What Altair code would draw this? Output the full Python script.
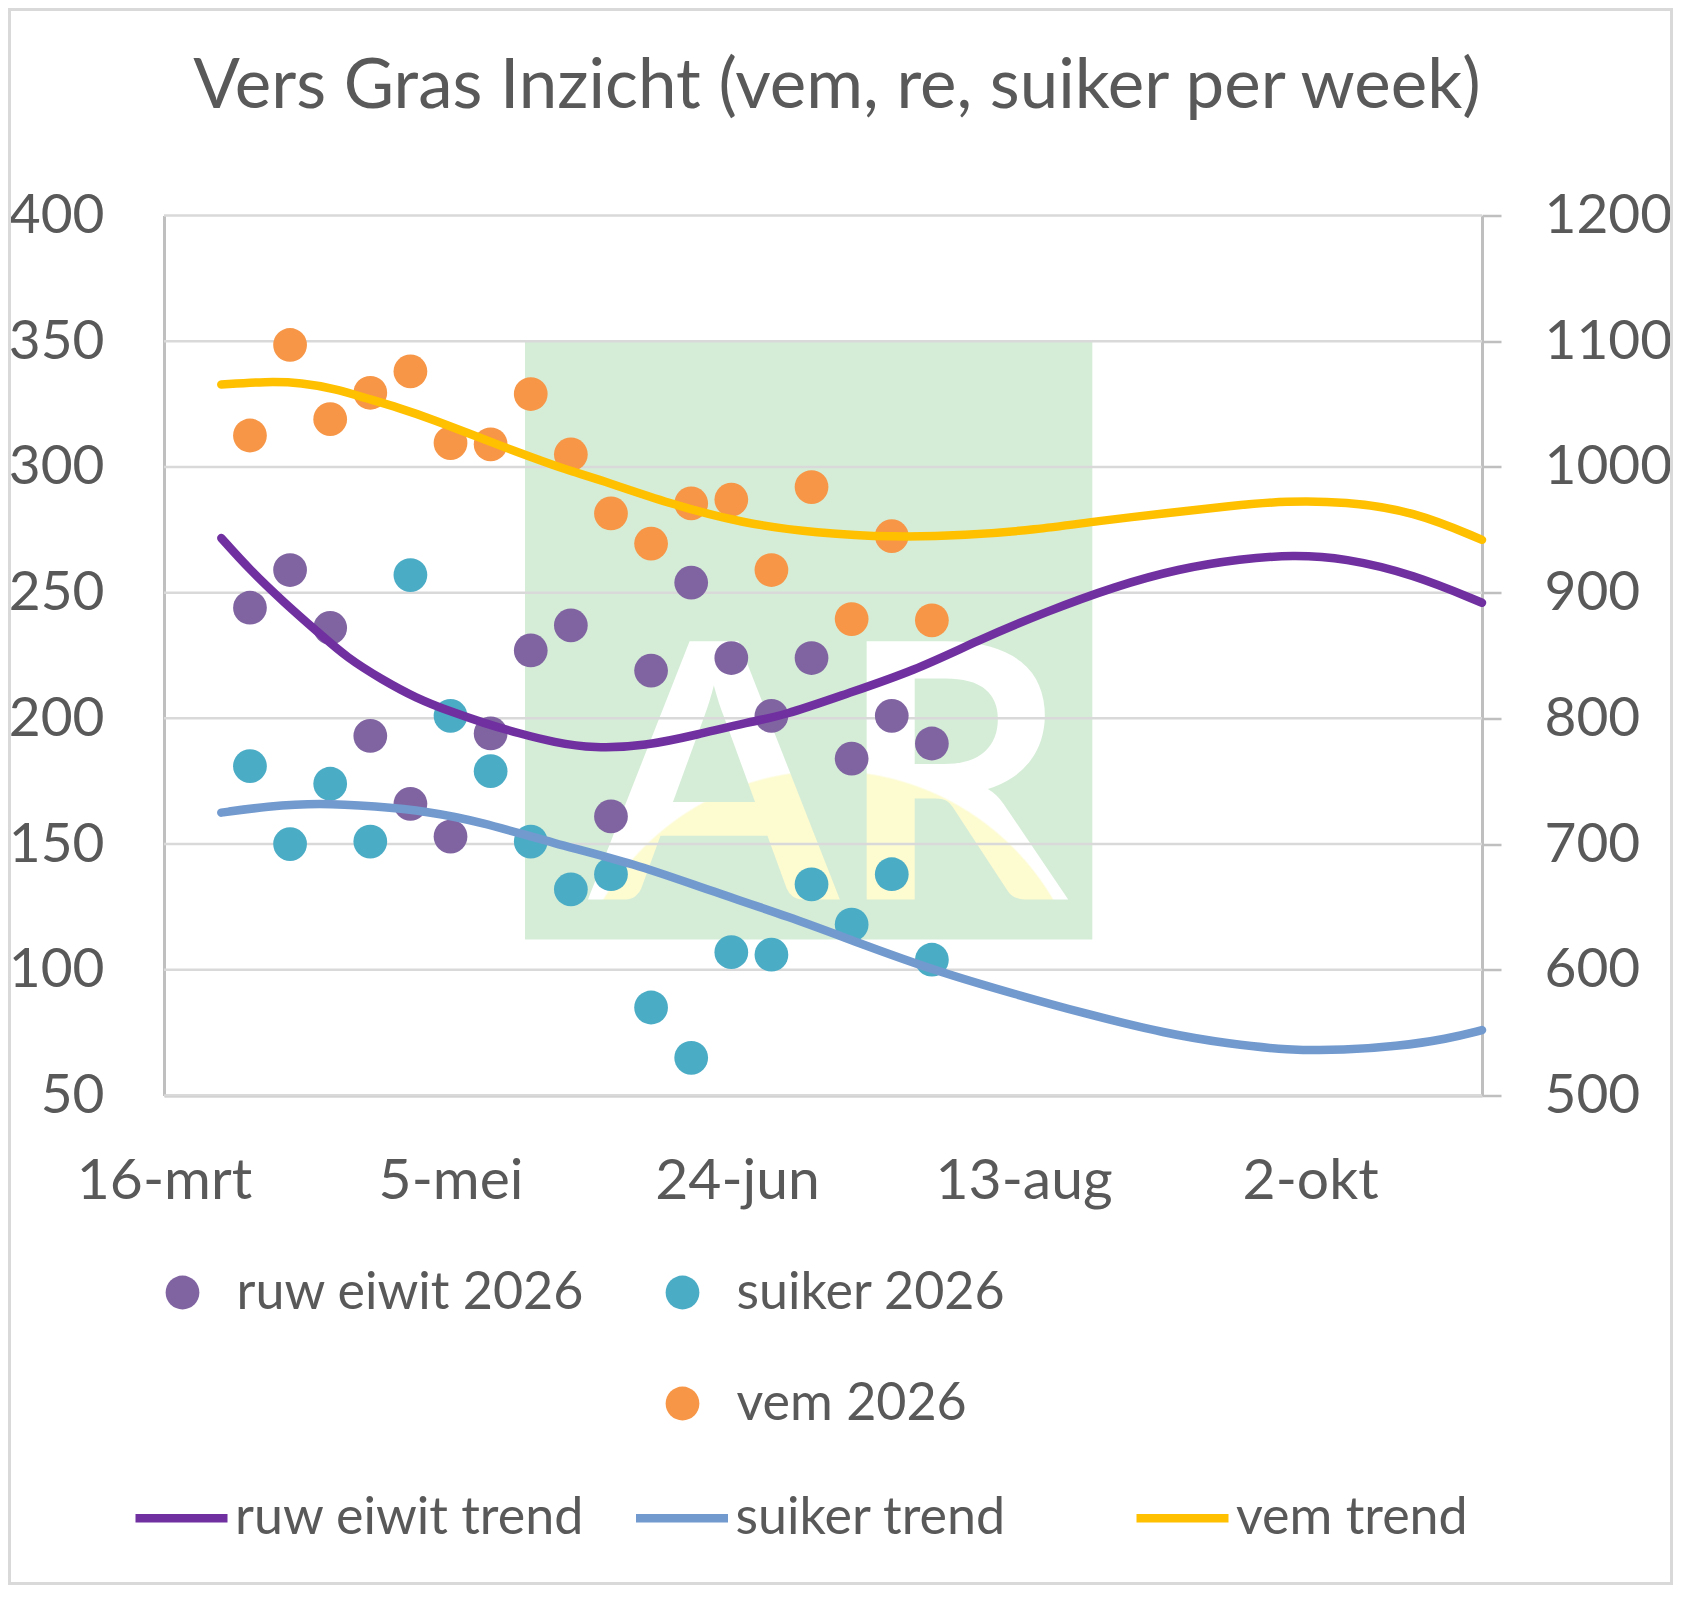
import pandas as pd
import altair as alt

# weekly samples 2026 (left axis: ruw eiwit, suiker; right axis: vem)
dates = ["2026-03-31", "2026-04-07", "2026-04-14", "2026-04-21", "2026-04-28",
         "2026-05-05", "2026-05-12", "2026-05-19", "2026-05-26", "2026-06-02",
         "2026-06-09", "2026-06-16", "2026-06-23", "2026-06-30", "2026-07-07",
         "2026-07-14", "2026-07-21", "2026-07-28"]
ruw_eiwit = [244, 259, 236, 193, 166, 153, 194, 227, 237, 161,
             219, 254, 224, 201, 224, 184, 201, 190]
suiker = [181, 150, 174, 151, 257, 201, 179, 151, 132, 138,
          85, 65, 107, 106, 134, 118, 138, 104]
vem = [1025, 1097, 1038, 1059, 1076, 1019, 1018, 1058, 1010, 963,
       939, 971, 974, 918, 984, 879, 945, 878]

# trend lines, x in days after 16-mrt
eiwit_trend_days = [10, 15, 21, 27, 32, 38, 44, 50, 56, 62, 68, 75, 84, 93, 102, 108,
                    119, 131, 142, 154, 166, 177, 188, 197, 206, 218, 230]
eiwit_trend = [271.7, 259, 246, 234, 224, 215.5, 208, 202.7, 198, 194, 190.5, 188, 189,
               193.5, 198.5, 201, 209.7, 219, 231, 242.5, 252.5, 259.5, 263.5, 265,
               263.8, 257.3, 246]
suiker_trend_days = [10, 18, 27, 37, 46, 55, 68, 82, 95, 109, 122, 135, 149, 160,
                     175, 186, 196, 206, 215, 224, 230]
suiker_trend = [162.5, 165, 166.4, 165, 163, 159, 150.3, 142.3, 131.7, 121.2, 110,
                99.3, 90, 83, 74.5, 70.5, 68, 68, 69.5, 72.5, 76]
vem_trend_days = [10, 18, 24, 30, 35, 41, 47, 53, 59, 64, 70, 76, 88, 101, 114, 127,
                  140, 152, 163, 175, 186, 196, 206, 218, 230]
vem_trend = [1065.5, 1068, 1067, 1062, 1055, 1047, 1037.6, 1027, 1016.4, 1008, 998,
             990, 971, 955, 947.4, 944, 945.5, 950, 957, 963.3, 969, 973, 972.4, 965, 942]

left_ticks = [50, 100, 150, 200, 250, 300, 350, 400]
right_ticks = [500, 600, 700, 800, 900, 1000, 1100, 1200]

# watermark box behind the data
wm_start, wm_end = "2026-05-18", "2026-08-25"
wm_low, wm_high = 112, 350
logo_date, logo_base = "2026-07-10", 128

GREY_TEXT = "#595959"
FONT = "Lato"

start = pd.Timestamp("2026-03-16")


def day_to_str(d):
    return (start + pd.Timedelta(days=d)).strftime("%Y-%m-%d")


pts_left = pd.concat([
    pd.DataFrame({"date": dates, "value": ruw_eiwit, "series": "ruw eiwit 2026"}),
    pd.DataFrame({"date": dates, "value": suiker, "series": "suiker 2026"}),
])
pts_right = pd.DataFrame({"date": dates, "value": vem, "series": "vem 2026"})

trend_left = pd.concat([
    pd.DataFrame({"date": [day_to_str(d) for d in eiwit_trend_days],
                  "value": eiwit_trend, "series": "ruw eiwit trend"}),
    pd.DataFrame({"date": [day_to_str(d) for d in suiker_trend_days],
                  "value": suiker_trend, "series": "suiker trend"}),
])
trend_right = pd.DataFrame({"date": [day_to_str(d) for d in vem_trend_days],
                            "value": vem_trend, "series": "vem trend"})

wm_df = pd.DataFrame({"start": [wm_start], "end": [wm_end], "low": [wm_low], "high": [wm_high]})
logo_df = pd.DataFrame({"date": [logo_date], "value": [logo_base]})
grid_df = pd.DataFrame({"value": left_ticks})

# scales and axes
x_scale = alt.Scale(type="utc", domain=[alt.DateTime(year=2026, month=3, date=16, utc=True),
                                        alt.DateTime(year=2026, month=11, date=1, utc=True)])
x_axis = alt.Axis(
    values=[alt.DateTime(year=2026, month=3, date=16, utc=True),
            alt.DateTime(year=2026, month=5, date=5, utc=True),
            alt.DateTime(year=2026, month=6, date=24, utc=True),
            alt.DateTime(year=2026, month=8, date=13, utc=True),
            alt.DateTime(year=2026, month=10, date=2, utc=True)],
    labelExpr="utcdate(datum.value) + '-' + ['jan','feb','mrt','apr','mei','jun','jul','aug','sep','okt','nov','dec'][utcmonth(datum.value)]",
    grid=False, ticks=False, labelPadding=58, labelFont=FONT, labelFontSize=57,
    labelColor=GREY_TEXT, labelFlush=False, labelOverlap=False,
    domainColor="#bfbfbf", domainWidth=3, title=None)

left_scale = alt.Scale(domain=[50, 400], nice=False, zero=False)
left_axis = alt.Axis(orient="left", values=left_ticks, grid=False, ticks=False, tickSize=0,
                     labelPadding=60, labelFont=FONT, labelFontSize=55, labelColor=GREY_TEXT,
                     domainColor="#bfbfbf", domainWidth=3, title=None)
right_scale = alt.Scale(domain=[500, 1200], nice=False, zero=False)
right_axis = alt.Axis(orient="right", values=right_ticks, format="d", grid=False, ticks=True,
                      tickSize=19, tickColor="#bfbfbf", tickWidth=2.5, labelPadding=43,
                      labelAlign="left", labelFont=FONT, labelFontSize=55, labelColor=GREY_TEXT,
                      domainColor="#bfbfbf", domainWidth=3, title=None)


def X(field):
    return alt.X(field, scale=x_scale, axis=x_axis, title=None)


def YL(field):
    return alt.Y(field, scale=left_scale, axis=left_axis, title=None)


def YR(field):
    return alt.Y(field, scale=right_scale, axis=right_axis, title=None)


# legends: one for the dots (with an empty slot so vem sits in column 2), one for trends
fill_enc = alt.Fill(
    "series:N",
    scale=alt.Scale(domain=["ruw eiwit 2026", "suiker 2026", " ", "vem 2026"],
                    range=["#8064a2", "#4bacc6", "rgba(0,0,0,0)", "#f79646"]),
    legend=alt.Legend(title=None, orient="none", direction="horizontal",
                      legendX=-7.5, legendY=1051, columns=2,
                      gridAlign="all", columnPadding=72, rowPadding=59, padding=0,
                      symbolType="circle", symbolSize=1140, symbolStrokeWidth=0,
                      symbolOpacity=1, labelFont=FONT, labelFontSize=52,
                      labelColor=GREY_TEXT, labelOffset=28, labelLimit=800))
stroke_enc = alt.Stroke(
    "series:N",
    scale=alt.Scale(domain=["ruw eiwit trend", "suiker trend", "vem trend"],
                    range=["#7030a0", "#729acf", "#ffc000"]),
    legend=alt.Legend(title=None, orient="none", direction="horizontal",
                      legendX=-33, legendY=1252, columns=3,
                      gridAlign="all", columnPadding=33.5, padding=0,
                      symbolType="stroke", symbolSize=8464, symbolStrokeWidth=8.5,
                      labelFont=FONT, labelFontSize=52, labelColor=GREY_TEXT,
                      labelOffset=3, labelLimit=800))

# outer frame of the chart area
frame = alt.Chart(alt.Data(values=[{}])).mark_rect(
    filled=False, stroke="#d9d9d9", strokeWidth=3
).encode(x=alt.value(-154.5), x2=alt.value(1318 + 189.5),
         y=alt.value(-206), y2=alt.value(880 + 488))

watermark = alt.Chart(wm_df).mark_rect(color="#d5edd7").encode(
    x=X("start:T"), x2="end:T", y=YL("low:Q"), y2="high:Q")

logo = alt.Chart(logo_df).mark_text(
    text="AR", font=FONT, fontSize=357, fontWeight="bold", align="center",
    baseline="alphabetic",
    fill=alt.RadialGradient(
        gradient="radial", x1=0.5, y1=1.054, r1=0, x2=0.5, y2=1.054, r2=0.536,
        stops=[alt.GradientStop(offset=0, color="#fdfbd0"),
               alt.GradientStop(offset=0.995, color="#fdfbd0"),
               alt.GradientStop(offset=1, color="#ffffff")])
).encode(x=X("date:T"), y=YL("value:Q"))

grid = alt.Chart(grid_df).mark_rule(color="#d9d9d9", strokeWidth=2.5).encode(y=YL("value:Q"))

dots_left = alt.Chart(pts_left).mark_circle(size=1140, opacity=1, strokeWidth=0).encode(
    x=X("date:T"), y=YL("value:Q"), fill=fill_enc)
lines_left = alt.Chart(trend_left).mark_line(
    strokeWidth=8.5, interpolate="basis", strokeCap="round").encode(
    x=X("date:T"), y=YL("value:Q"), stroke=stroke_enc, detail="series:N")

dots_right = alt.Chart(pts_right).mark_circle(size=1140, opacity=1, strokeWidth=0).encode(
    x=X("date:T"), y=YR("value:Q"), fill=fill_enc)
lines_right = alt.Chart(trend_right).mark_line(
    strokeWidth=8.5, interpolate="basis", strokeCap="round").encode(
    x=X("date:T"), y=YR("value:Q"), stroke=stroke_enc)

left = alt.layer(frame, watermark, logo, grid, dots_left, lines_left)
right = alt.layer(dots_right, lines_right)

chart = alt.layer(left, right).resolve_scale(y="independent").properties(
    width=1318,
    height=880,
    autosize=alt.AutoSizeParams(type="none"),
    padding={"left": 156, "top": 207.5, "right": 191, "bottom": 491},
    title=alt.TitleParams(
        text="Vers Gras Inzicht (vem, re, suiker per week)", font=FONT, fontSize=69,
        fontWeight="normal", color=GREY_TEXT, anchor="middle", dx=14, offset=0, dy=169,
        baseline="alphabetic"),
).configure_view(strokeWidth=0)

chart.save("out.html", embed_options={"renderer": "svg", "actions": False})
